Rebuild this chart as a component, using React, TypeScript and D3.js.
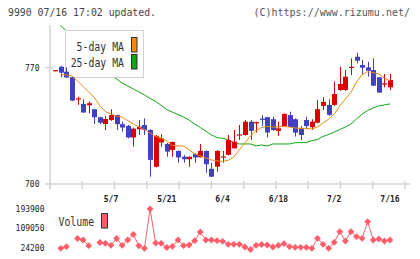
import React from "react";
import * as d3 from "d3";

const opens = [768.0,770.6,767.6,764.2,751.0,748.2,747.4,745.0,740.2,736.1,738.5,741.5,736.0,735.0,728.0,733.0,735.5,732.5,710.4,725.0,724.1,720.5,719.9,716.4,714.9,718.1,716.1,719.9,709.1,710.4,716.0,717.5,721.5,729.3,729.5,737.5,736.6,739.4,740.2,739.0,732.0,734.9,741.5,739.0,733.5,738.5,734.2,736.9,747.0,747.6,747.6,756.6,756.6,770.0,776.6,771.6,770.2,768.6,764.2,760.0,758.2];
const closes = [768.4,767.0,764.2,750.2,751.4,743.0,748.6,740.2,736.9,739.1,741.5,736.0,734.0,728.0,733.3,734.5,732.5,714.5,729.0,727.5,719.5,725.3,716.0,714.9,716.4,716.0,719.9,711.9,704.4,719.9,716.5,726.5,725.5,729.7,737.5,732.0,737.1,738.6,731.0,732.5,733.5,742.1,734.3,730.9,729.5,734.9,737.5,745.0,749.4,741.6,754.2,760.2,764.6,770.4,774.2,770.0,768.2,759.2,755.0,760.5,762.6];
const highs = [768.6,771.0,770.2,764.5,752.5,751.0,749.6,745.0,740.5,741.0,745.0,741.8,737.5,735.5,734.0,738.5,739.5,733.0,729.5,730.0,724.7,725.5,720.2,717.5,716.6,718.5,724.1,720.2,712.8,720.4,719.9,729.5,732.5,735.5,738.5,738.5,737.5,741.5,740.5,740.5,737.5,742.5,743.5,739.5,734.9,740.5,739.0,750.6,752.2,751.0,761.6,770.6,768.6,775.6,779.0,774.6,773.6,775.6,764.5,766.2,766.2];
const lows = [767.8,764.2,764.0,750.0,747.6,743.0,742.6,736.1,736.0,732.5,738.0,732.5,731.5,727.5,722.5,729.5,729.5,704.4,710.0,722.5,716.4,716.4,712.8,712.8,710.4,712.8,716.0,706.8,704.2,707.4,712.8,717.2,721.3,726.5,729.0,726.5,731.0,735.0,728.0,732.0,729.0,734.5,734.0,728.5,726.5,733.0,732.5,736.5,744.5,741.0,747.0,756.0,756.0,765.6,772.6,765.6,764.6,759.0,755.0,758.2,756.6];

const ma5: (number | null)[] = [null,766.2,765.6,765.0,762.0,758.7,755.4,752.1,747.0,743.6,742.1,740.9,740.2,738.2,736.1,734.3,732.8,730.7,728.6,727.7,725.9,723.2,722.9,722.9,720.5,718.1,716.9,715.7,714.5,713.9,713.6,714.2,716.3,720.5,724.7,728.9,732.2,734.0,734.6,734.3,734.5,734.6,734.3,733.7,733.5,733.5,733.1,734.3,736.7,739.1,742.1,747.0,751.2,755.1,761.4,765.9,767.6,767.1,766.2,763.8,762.0];
const ma25: number[] = [798.4,795.4,792.1,788.5,784.9,781.3,777.9,774.6,771.3,768.0,765.3,763.2,760.8,759.0,757.2,755.4,753.6,751.5,749.7,747.3,744.8,743.3,741.8,740.3,738.5,736.1,734.0,731.9,729.5,728.0,727.5,726.8,724.7,724.1,724.1,724.1,722.9,723.5,722.9,724.1,724.1,724.1,724.1,724.9,724.9,724.9,726.1,726.8,728.6,729.8,731.3,732.8,734.3,736.1,739.1,742.1,744.2,745.8,747.0,747.6,748.2];
const volumes: (number | null)[] = [null,24200,31100,null,66500,60000,35400,null,49200,45800,37200,66500,37200,60000,84700,35000,24200,193900,47100,45800,27700,32800,60000,35400,38400,57000,94600,60000,60000,57000,54400,41500,41500,41500,29800,19000,37200,40600,38400,29800,37200,44100,31100,28500,28500,28500,24200,67400,41500,24200,50100,95900,55700,95900,74300,67400,139100,60000,64400,55700,60000];

const dateLabels = ["5/7", "5/21", "6/4", "6/18", "7/2", "7/16"];
const dateLabelIdx = [10, 20, 30, 40, 50, 60];
const priceTicks = [770, 700];
const volTicks = [193900, 109050, 24200];

const UP = "#dd0000";
const DOWN = "#4040c0";
const ORANGE = "#f08a10";
const GREEN = "#12a812";
const VOL = "#ff5d6a";
const AXIS = "#d4d4d4";
const MONO = "'DejaVu Sans Mono', monospace";

export default function App() {
  const n = closes.length;
  const x = d3.scaleLinear().domain([0, n - 1]).range([55.2, 390]);
  const y = d3.scaleLinear().domain([700, 770]).range([184, 67.7]);
  const yv = d3.scaleLinear().domain([24200, 193900]).range([248.3, 209]);
  const gridX = d3.scaleLinear().domain([0, 11]).range([50, 405]);
  const plot = { l: 50, r: 410, t: 25, b: 184 };

  const lineMA = d3
    .line<number | null>()
    .defined((d) => d != null)
    .x((_, i) => x(i))
    .y((d) => y(d as number));
  const lineVol = d3
    .line<number | null>()
    .defined((d) => d != null)
    .x((_, i) => x(i))
    .y((d) => yv(d as number));

  const cw = 5;

  return (
    <svg
      width={420}
      height={259}
      style={{ position: "absolute", left: 0, top: 0, background: "#fff" }}
      fontFamily={MONO}
    >
      <defs>
        <clipPath id="plotClip">
          <rect x={plot.l} y={plot.t} width={plot.r - plot.l} height={plot.b - plot.t} />
        </clipPath>
      </defs>
      <rect x={0} y={0} width={420} height={259} fill="#fff" />
      <text x={8} y={16} fontSize={10} fill="#444" textLength={148} lengthAdjust="spacingAndGlyphs">
        9990 07/16 17:02 updated.
      </text>
      <text x={410} y={16} fontSize={10} fill="#555" textAnchor="end">
        (C)https://www.rizumu.net/
      </text>

      {/* axes */}
      <line x1={50} y1={25} x2={50} y2={189} stroke={AXIS} strokeWidth={1.5} />
      <line x1={50} y1={184} x2={410} y2={184} stroke={AXIS} strokeWidth={1.5} />
      {d3.range(12).map((k) => (
        <line key={k} x1={gridX(k)} x2={gridX(k)} y1={181} y2={189} stroke={AXIS} strokeWidth={1.5} />
      ))}
      {priceTicks.map((p) => (
        <g key={p}>
          <line x1={45} x2={53} y1={y(p)} y2={y(p)} stroke={AXIS} strokeWidth={1.5} />
          <text x={39.5} y={y(p) + 2.8} fontSize={8} fill="#222" textAnchor="end">
            {p}
          </text>
        </g>
      ))}
      {dateLabels.map((lab, k) => (
        <text key={lab} x={x(dateLabelIdx[k])} y={201.5} fontSize={8} fill="#222" textAnchor="middle" fontWeight="bold">
          {lab}
        </text>
      ))}

      <g clipPath="url(#plotClip)">
        <path d={lineMA(ma25) || ""} fill="none" stroke={GREEN} strokeWidth={1} />
      </g>

      {/* legend */}
      <rect x={65.5} y={30.5} width={78} height={47} fill="#fff" stroke="#d0d0d0" strokeWidth={1} />
      <text x={124} y={50.7} fontSize={12} fill="#333" textAnchor="end" textLength={47.4} lengthAdjust="spacingAndGlyphs">
        5-day MA
      </text>
      <text x={124} y={66.7} fontSize={12} fill="#333" textAnchor="end" textLength={53.3} lengthAdjust="spacingAndGlyphs">
        25-day MA
      </text>
      <rect x={131.5} y={37.5} width={5.5} height={14.5} fill={ORANGE} stroke="#333" strokeWidth={1} />
      <rect x={131.5} y={54.5} width={5.5} height={14.5} fill={GREEN} stroke="#333" strokeWidth={1} />

      <g clipPath="url(#plotClip)">
        {closes.map((c, i) => {
          const o = opens[i];
          const col = c >= o ? UP : DOWN;
          const cx = Math.round(x(i)) + 0.5;
          const top = y(Math.max(o, c));
          const bot = y(Math.min(o, c));
          const h = Math.max(1.2, bot - top);
          return (
            <g key={i}>
              <line x1={cx} x2={cx} y1={y(highs[i])} y2={y(lows[i])} stroke={col} strokeWidth={1} />
              <rect x={cx - cw / 2} y={h > 1.2 ? top : (top + bot) / 2 - 0.6} width={cw} height={h} fill={col} />
            </g>
          );
        })}
        <path d={lineMA(ma5) || ""} fill="none" stroke={ORANGE} strokeWidth={1} />
      </g>

      {/* volume */}
      {volTicks.map((v) => (
        <text key={v} x={44.5} y={yv(v) + 2.8} fontSize={8} fill="#222" textAnchor="end">
          {v}
        </text>
      ))}
      <text x={58.5} y={226} fontSize={12} fill="#333" textLength={35.6} lengthAdjust="spacingAndGlyphs">
        Volume
      </text>
      <rect x={101.5} y={213.5} width={6} height={14.5} fill={VOL} stroke="#333" strokeWidth={1} />
      <path d={lineVol(volumes) || ""} fill="none" stroke={VOL} strokeWidth={1} />
      {volumes.map((v, i) =>
        v == null ? null : (
          <path
            key={i}
            d={`M${x(i)},${yv(v) - 3.4}L${x(i) + 3.4},${yv(v)}L${x(i)},${yv(v) + 3.4}L${x(i) - 3.4},${yv(v)}Z`}
            fill={VOL}
          />
        )
      )}
    </svg>
  );
}
